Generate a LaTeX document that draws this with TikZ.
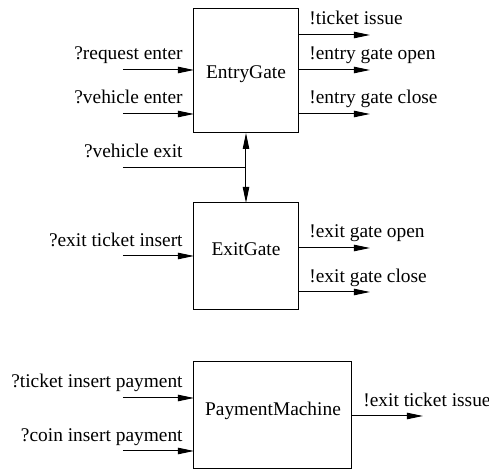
\documentclass[tikz,border=0pt]{standalone}
\usepackage{fontspec}
\setmainfont{Liberation Serif}
\usetikzlibrary{arrows.meta}
\begin{document}
\begin{tikzpicture}[x=0.5pt,y=-0.5pt,
  box/.style={draw,line width=0.5pt,inner sep=0pt,outer sep=0pt},
  lbl/.style={inner sep=0pt,font=\fontsize{9.7}{11}\selectfont},
  sig/.style={line width=0.5pt,-{Triangle[length=8pt,width=3.2pt]}},
  wire/.style={line width=0.5pt}]
\useasboundingbox (0,0) rectangle (489,470);
% boxes
\node[box,minimum width=52.5pt,minimum height=62pt] (eg) at (246.5,71) {};
\node[box,minimum width=52.5pt,minimum height=53.5pt] (xg) at (246.5,256.5) {};
\node[box,minimum width=79pt,minimum height=53.5pt] (pm) at (273,415.5) {};
\node[lbl,anchor=base] (egt) at (246,79) {EntryGate};
\node[lbl,anchor=base] (xgt) at (246,256) {ExitGate};
\node[lbl,anchor=base] (pmt) at (273,416) {PaymentMachine};
% free ends
\coordinate (i1) at (123,70);
\coordinate (i2) at (123,114);
\coordinate (i3) at (123,168);
\coordinate (i4) at (123,256);
\coordinate (i5) at (123,398);
\coordinate (i6) at (123,451);
\coordinate (o1) at (370,35);
\coordinate (o2) at (370,70);
\coordinate (o3) at (370,114);
\coordinate (o4) at (370,248);
\coordinate (o5) at (370,292);
\coordinate (o6) at (423,416);
\coordinate (j) at (246,168);
% inputs
\draw[sig] (i1) -- (eg.west |- i1);
\draw[sig] (i2) -- (eg.west |- i2);
\draw[sig] (i4) -- (xg.west |- i4);
\draw[sig] (i5) -- (pm.west |- i5);
\draw[sig] (i6) -- (pm.west |- i6);
% outputs
\draw[sig] (eg.east |- o1) -- (o1);
\draw[sig] (eg.east |- o2) -- (o2);
\draw[sig] (eg.east |- o3) -- (o3);
\draw[sig] (xg.east |- o4) -- (o4);
\draw[sig] (xg.east |- o5) -- (o5);
\draw[sig] (pm.east |- o6) -- (o6);
% vehicle exit
\draw[wire] (i3) -- (j);
\draw[sig] (j) -- (eg.south -| j);
\draw[sig] (j) -- (xg.north -| j);
% labels
\node[lbl,anchor=base east] (l1) at (183,60) {?request enter};
\node[lbl,anchor=base east] (l2) at (183,104) {?vehicle enter};
\node[lbl,anchor=base east] (l3) at (183,158) {?vehicle exit};
\node[lbl,anchor=base east] (l4) at (183,247) {?exit ticket insert};
\node[lbl,anchor=base east] (l5) at (183,388) {?ticket insert payment};
\node[lbl,anchor=base east] (l6) at (183,442) {?coin insert payment};
\node[lbl,anchor=base west] (r1) at (309,25) {!ticket issue};
\node[lbl,anchor=base west] (r2) at (309,60) {!entry gate open};
\node[lbl,anchor=base west] (r3) at (309,104) {!entry gate close};
\node[lbl,anchor=base west] (r4) at (309,238) {!exit gate open};
\node[lbl,anchor=base west] (r5) at (309,283) {!exit gate close};
\node[lbl,anchor=base west] (r6) at (363,407) {!exit ticket issue};
\end{tikzpicture}
\end{document}
